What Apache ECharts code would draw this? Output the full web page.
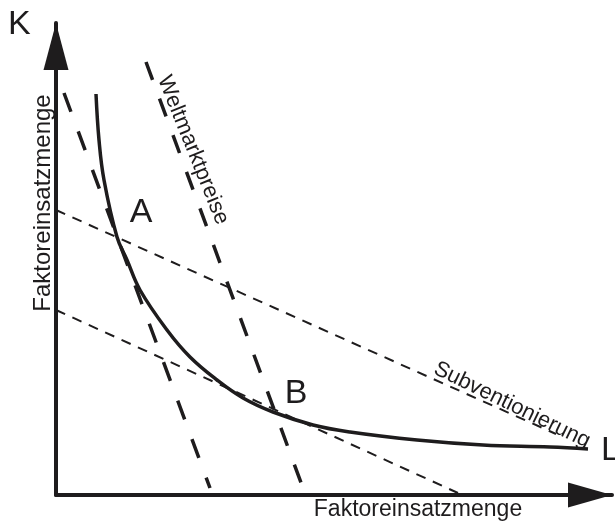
<!DOCTYPE html>
<html>
<head>
<meta charset="utf-8">
<script src="https://cdn.jsdelivr.net/npm/echarts@6/dist/echarts.min.js"></script>
<style>html,body{margin:0;padding:0;background:#fff}#chart{width:615px;height:526px}</style>
</head>
<body>
<div id="chart"></div>
<script>
// Isoquante: L (Arbeit) und K (Kapital) in Diagrammeinheiten
const isoquantL = [40, 43, 48, 61, 71, 84, 111, 134, 161, 187, 217, 257, 294, 361, 427, 494, 532]
const isoquantK = [401, 355, 315, 258, 235, 205, 165, 138, 115, 97, 83, 70, 63, 55, 50, 48, 46]
// Preisgeraden, je zwei Endpunkte [L, K]
const weltmarkt1 = [[8, 402], [154, 7]]
const weltmarkt2 = [[90, 433], [247, 7]]
const subvention1 = [[0, 285], [500, 61]]
const subvention2 = [[0, 185], [402, 2]]
// Beschriftungen
const pointNames = ['A', 'B']
const pointPos = [[85, 282], [240, 101]]
const lineNames = ['Weltmarktpreise', 'Subventionierung']
const linePos = [[137, 345], [456, 90]]
const axisTitle = 'Faktoreinsatzmenge'

const ink = '#1e1c1d'
const font = 'Liberation Sans, Arial, sans-serif'

const myChart = echarts.init(document.getElementById('chart'))

const axisBase = {
  type: 'value',
  min: 0,
  splitLine: { show: false },
  axisTick: { show: false },
  axisLabel: { show: false }
}

const labelStyle = {
  show: true,
  position: 'inside',
  formatter: '{b}',
  color: ink,
  opacity: 1,
  textBorderWidth: 0,
  fontFamily: font
}

myChart.setOption({
  animation: false,
  backgroundColor: '#fff',
  grid: { left: 56, right: 3, top: 23, bottom: 31 },
  xAxis: Object.assign({}, axisBase, {
    max: 556,
    axisLine: {
      lineStyle: { color: ink, width: 4 },
      symbol: ['none', 'triangle'],
      symbolSize: [25, 44],
      symbolOffset: [0, -22]
    }
  }),
  yAxis: Object.assign({}, axisBase, {
    max: 472,
    axisLine: {
      lineStyle: { color: ink, width: 4 },
      symbol: ['none', 'triangle'],
      symbolSize: [25, 47],
      symbolOffset: [0, -23.5]
    }
  }),
  graphic: [
    { type: 'text', left: 8, top: 8, style: { text: 'K', font: '34px ' + font, fill: ink } },
    { type: 'text', left: 601, top: 434, style: { text: 'L', font: '34px ' + font, fill: ink } },
    { type: 'text', x: 43, y: 203, rotation: Math.PI / 2,
      style: { text: axisTitle, font: '24px ' + font, fill: ink, align: 'center', verticalAlign: 'middle' } },
    { type: 'text', x: 418, y: 510,
      style: { text: axisTitle, font: '23px ' + font, fill: ink, align: 'center', verticalAlign: 'middle' } }
  ],
  series: [
    {
      type: 'line',
      data: isoquantL.map((l, i) => [l, isoquantK[i]]),
      smooth: 0.4,
      showSymbol: false,
      lineStyle: { color: ink, width: 3.5 }
    },
    {
      type: 'line', data: weltmarkt1, showSymbol: false,
      lineStyle: { color: ink, width: 3.5, type: [20, 21] }
    },
    {
      type: 'line', data: weltmarkt2, showSymbol: false,
      lineStyle: { color: ink, width: 3.5, type: [19, 20] }
    },
    {
      type: 'line', data: subvention1, showSymbol: false,
      lineStyle: { color: ink, width: 2, type: [10, 8] }
    },
    {
      type: 'line', data: subvention2, showSymbol: false,
      lineStyle: { color: ink, width: 2, type: [10, 8] }
    },
    {
      type: 'scatter',
      symbolSize: 0,
      itemStyle: { opacity: 1, color: ink },
      data: pointNames.map((n, i) => ({ name: n, value: pointPos[i] })),
      label: Object.assign({}, labelStyle, { fontSize: 34 })
    },
    {
      type: 'scatter',
      symbolSize: 0,
      itemStyle: { opacity: 1, color: ink },
      data: lineNames.map((n, i) => ({ name: n, value: linePos[i], label: { rotate: i === 0 ? -68 : -26 } })),
      label: Object.assign({}, labelStyle, { fontSize: 22 })
    }
  ]
})
</script>
</body>
</html>
